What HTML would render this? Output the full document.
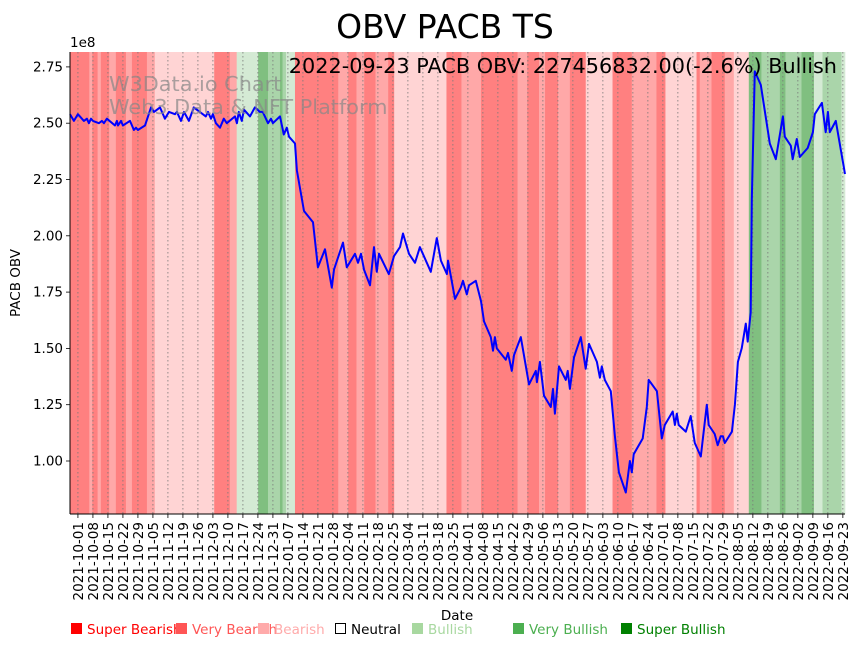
<!DOCTYPE html>
<html><head><meta charset="utf-8"><style>
html,body{margin:0;padding:0;background:#fff;}
svg{display:block;font-family:"DejaVu Sans","Liberation Sans",sans-serif;}
</style></head><body>
<svg id="chart" width="862" height="646" viewBox="0 0 862 646" xmlns="http://www.w3.org/2000/svg">
<text x="445" y="38" font-size="33" text-anchor="middle">OBV PACB TS</text>
<g id="bands"></g>
<g id="grid"></g>
<polyline id="obvline" fill="none" stroke="#0000ff" stroke-width="2" stroke-linejoin="round"/>
<text x="109" y="91" font-size="20.8" fill="#888" fill-opacity="0.7">W3Data.io Chart</text>
<text x="109" y="114" font-size="20.8" fill="#888" fill-opacity="0.7">Web3 Data &amp; NFT Platform</text>
<text x="837" y="73" font-size="20.8" text-anchor="end">2022-09-23 PACB OBV: 227456832.00(-2.6%) Bullish</text>
<g id="axes"></g>
<text x="70" y="47" font-size="13.5">1e8</text>
<text transform="translate(20,283) rotate(-90)" font-size="13.5" text-anchor="middle">PACB OBV</text>
<text x="457" y="620" font-size="13.5" text-anchor="middle">Date</text>
<g id="legend"></g>
</svg>
<script>
const NS="http://www.w3.org/2000/svg";
// data: days offset from 2021-10-01
const obvDays=[-3.7,-1.9,0,2.8,4.2,5.1,6.1,7,9.8,11.2,12.1,13.5,17.3,18.2,18.7,20.1,21,24.3,26.1,27.1,28,31.3,34.1,35.5,38.3,40.6,42.5,45.3,46.2,48.1,49.5,51.8,54.1,56.9,59.7,60.7,62.1,63,64.4,66.3,68.1,69.5,73.3,74.2,75.1,76.5,77.5,80.3,82.6,84.9,86.3,88.7,90.1,91,94.3,96.1,97.5,98.5,101.3,102.2,105.5,109.7,112,115.3,118.5,119.5,123.7,125.5,129.3,130.7,132.1,133.5,136.3,138.2,139.5,140.5,145.1,147.5,150.3,151.7,154.5,157.3,159.6,164.7,167.5,169.4,172.2,172.7,176,178.7,179.7,181.5,182.5,185.7,188.1,189.5,192.7,193.7,194.6,195.5,199.7,200.7,202.5,203.5,206.7,210.5,213.7,214.2,215.6,217.5,220.7,221.7,222.6,224.5,227.7,228.6,229.6,231.5,234.7,237,238.5,242.2,243.6,244.5,245.9,248.7,250.6,252.5,255.7,257.6,258.5,259.4,263.6,265.5,266.4,270.2,272.5,273.9,277.6,278.6,279.5,280.4,283.7,286,287.9,290.7,293.5,294.4,297.2,298.6,300,301,301.9,305.2,306.6,308,309.8,311.7,312.6,314,314.5,315.9,318.7,322.9,325.7,329,329.9,332.7,333.6,335.5,336.9,340.6,343,343.9,347.2,349,350,350.9,353.7,358];
const obvValues=[2.54,2.51,2.54,2.51,2.52,2.50,2.52,2.51,2.50,2.51,2.50,2.52,2.49,2.51,2.49,2.51,2.49,2.51,2.47,2.48,2.47,2.49,2.57,2.55,2.57,2.52,2.55,2.54,2.55,2.51,2.55,2.51,2.57,2.55,2.53,2.55,2.52,2.54,2.50,2.48,2.52,2.50,2.53,2.50,2.55,2.51,2.56,2.53,2.57,2.55,2.55,2.50,2.52,2.50,2.53,2.45,2.48,2.44,2.41,2.29,2.11,2.06,1.86,1.94,1.77,1.85,1.97,1.86,1.92,1.88,1.92,1.85,1.78,1.95,1.84,1.92,1.83,1.91,1.95,2.01,1.92,1.88,1.95,1.84,1.99,1.89,1.83,1.89,1.72,1.77,1.80,1.74,1.78,1.80,1.71,1.62,1.55,1.49,1.55,1.50,1.45,1.48,1.40,1.47,1.55,1.34,1.40,1.35,1.44,1.29,1.24,1.32,1.21,1.42,1.36,1.40,1.32,1.46,1.55,1.41,1.52,1.44,1.37,1.42,1.36,1.31,1.11,0.95,0.86,1.00,0.95,1.03,1.10,1.24,1.36,1.31,1.10,1.16,1.22,1.16,1.21,1.16,1.13,1.20,1.08,1.02,1.25,1.16,1.12,1.07,1.11,1.11,1.08,1.13,1.25,1.44,1.50,1.61,1.53,1.66,2.16,2.73,2.67,2.41,2.34,2.53,2.44,2.40,2.34,2.43,2.35,2.39,2.46,2.54,2.59,2.46,2.55,2.46,2.51,2.2746];
const bandStarts=[-3.7,5.3,6.7,9.2,10.7,14.6,17.7,22.4,25.2,32.2,35.9,63.6,70.9,74.1,84.1,88.7,94.3,95.5,97.1,101.3,121.5,126.1,130,133.6,138.9,144.8,147.6,172,179,188.1,205.2,209.7,215.2,218,224.1,229.6,237,249.5,258.5,270,274.2,288.7,290.2,295.7,301.9,306.1,313.1,319,327.6,330.2,337.7,343.5,347.5,356.4];
const bandLevels=[-3,-2,-3,-2,-3,-2,-3,-2,-3,-2,-1,-3,-2,1,3,2,3,2,1,-3,-2,-3,-2,-3,-2,-3,-1,-3,-2,-3,-2,-3,-2,-3,-2,-3,-1,-3,-2,-3,-1,-3,-2,-3,-2,-1,3,2,3,2,3,1,2,1];
const yTicks=[1.00,1.25,1.50,1.75,2.00,2.25,2.50,2.75];
const legendLabels=["Super Bearish","Very Bearish","Bearish","Neutral","Bullish","Very Bullish","Super Bullish"];
const legendColors=["#ff0000","#ff5555","#ffaaaa","none","#a8d8a0","#4caf50","#008000"];
const legendTextColors=["#ff0000","#ff5555","#ffaaaa","#000000","#a8d8a0","#4caf50","#008000"];

const X0=70,X1=845,Y0=52,Y1=514,D0=-3.7,D1=358;
const xS=d=>X0+(d-D0)*(X1-X0)/(D1-D0);
const yS=v=>461-(v-1)*225.2;
const bandColor={"-3":"#ff8080","-2":"#ffa8a8","-1":"#ffd4d4","1":"#d4ead4","2":"#aad5aa","3":"#80bf80"};
function mk(tag,attrs,parent){const e=document.createElementNS(NS,tag);for(const k in attrs)e.setAttribute(k,attrs[k]);parent.appendChild(e);return e;}

const gB=document.getElementById('bands');
bandStarts.forEach((s,i)=>{
  const e=i+1<bandStarts.length?bandStarts[i+1]:D1;
  const r=mk('rect',{x:xS(s),y:Y0,width:xS(e)-xS(s)+0.3,height:Y1-Y0,fill:bandColor[bandLevels[i]]},gB);
  
  
});

const gG=document.getElementById('grid'),gA=document.getElementById('axes');
const start=new Date(Date.UTC(2021,9,1));
for(let d=0;d<=357;d+=7){
  const x=xS(d);
  const l=mk('line',{x1:x,x2:x,y1:Y0,y2:Y1,stroke:'#777','stroke-width':0.8,'stroke-dasharray':'1.5,2.5'},gG);
  
  
  const t=mk('line',{x1:x,x2:x,y1:Y1,y2:Y1+4,stroke:'#000','stroke-width':0.8},gA);
  
  
  const dt=new Date(start.getTime()+d*86400000);
  const lab=mk('text',{transform:`translate(${x+5},${Y1+8}) rotate(-90)`,'font-size':13.5,'text-anchor':'end'},gA);
  lab.textContent=dt.toISOString().slice(0,10);
  
  
}
yTicks.forEach(v=>{
  const y=yS(v);
  const t=mk('line',{x1:X0-4,x2:X0,y1:y,y2:y,stroke:'#000','stroke-width':0.8},gA);
  
  
  const lab=mk('text',{x:X0-7,y:y+4.5,'font-size':13.5,'text-anchor':'end'},gA);
  lab.textContent=v.toFixed(2);
  
  
});
const ax1=mk('line',{x1:X0,x2:X0,y1:Y0,y2:Y1,stroke:'#000','stroke-width':1},gA);


const ax2=mk('line',{x1:X0,x2:X1,y1:Y1,y2:Y1,stroke:'#000','stroke-width':1},gA);



document.getElementById('obvline').setAttribute('points',obvDays.map((d,i)=>xS(d).toFixed(1)+','+yS(obvValues[i]).toFixed(1)).join(' '));

const gL=document.getElementById('legend');
const legX=[70,175,257,334,411,512,620];
legendLabels.forEach((lb,i)=>{
  const g=mk('g',{},gL);
  
  
  if(legendColors[i]==='none') mk('rect',{x:legX[i]+1.5,y:623.5,width:10,height:10,fill:'none',stroke:'#000','stroke-width':1},g);
  else mk('rect',{x:legX[i]+1,y:623,width:11,height:11,fill:legendColors[i]},g);
  const t=mk('text',{x:legX[i]+17,y:634,'font-size':13.5,fill:legendTextColors[i]},g);
  t.textContent=lb;
});
</script>
</body></html>
